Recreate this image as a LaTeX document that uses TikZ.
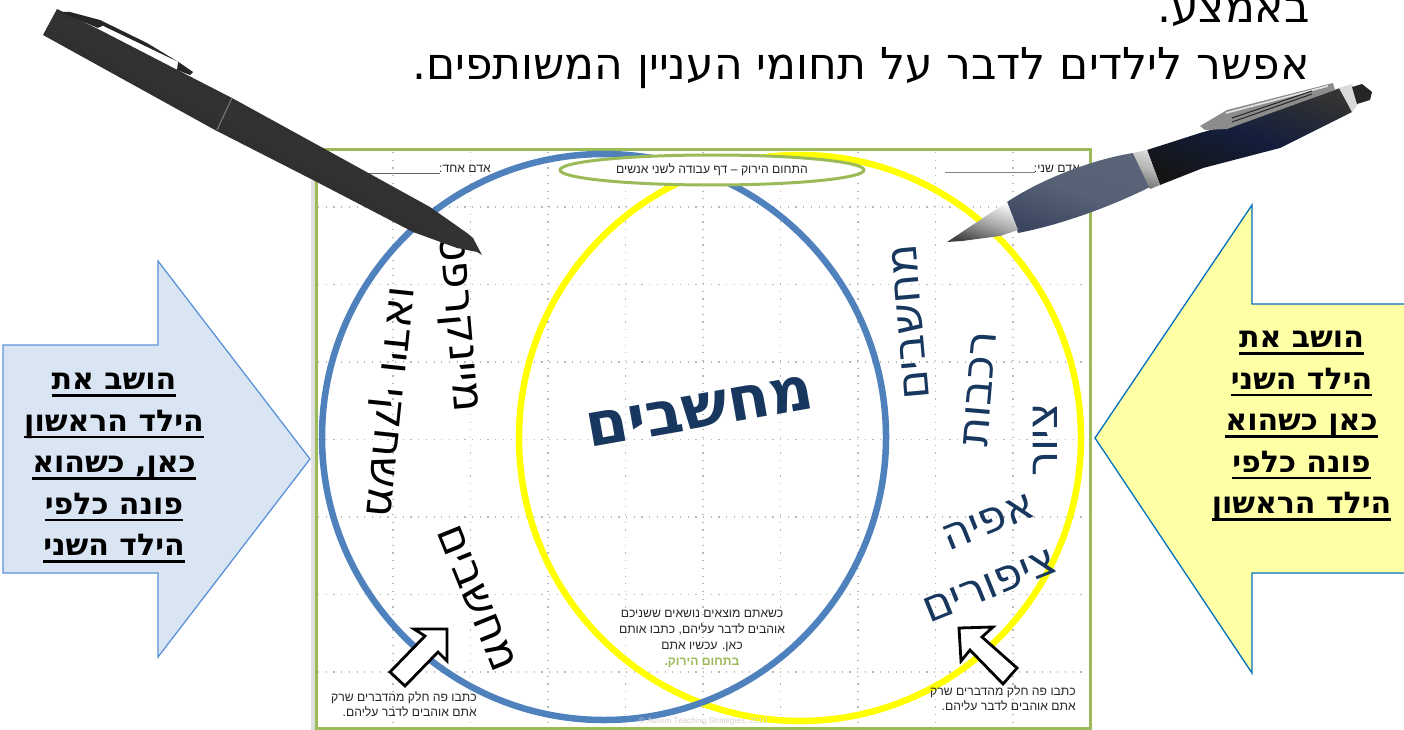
\documentclass[tikz,border=0pt]{standalone}
\usepackage{fontspec}
\usepackage{xcolor}
\newfontfamily\heb[Script=Hebrew]{DejaVu Sans}
\newfontfamily\hebs[Script=Hebrew]{Liberation Sans}
\TeXXeTstate=1
\newcommand\rtl[1]{\beginR #1\endR}
\newcommand\ulrtl[1]{\setbox0=\hbox{\rtl{#1}}\dp0=0pt \vtop{\box0\kern4.5pt\hrule height 2.6pt}}
\definecolor{wgreen}{HTML}{9BBB59}
\definecolor{wblue}{HTML}{4F81BD}
\definecolor{wyellow}{HTML}{FFFF00}
\definecolor{navy}{HTML}{17375E}
\definecolor{txt}{HTML}{262626}
\definecolor{armblue}{HTML}{DAE5F4}
\definecolor{armblueline}{HTML}{5B93D9}
\definecolor{armyellow}{HTML}{FFFFA6}
\definecolor{armyellowline}{HTML}{0070C0}
\definecolor{pennavy}{HTML}{141E3C}
\definecolor{gripa}{HTML}{5A6478}
\definecolor{gripb}{HTML}{3C465F}
\definecolor{gripc}{HTML}{566176}
\tikzset{
  x=1pt,y=-1pt,
  gridline/.style={draw=black!28,line width=1.1pt,dash pattern=on 1.2pt off 6.5pt},
  bigarrow/.style={line width=1.3pt,line join=miter},
  blockarrow/.style={draw=black,fill=white,line width=2.8pt,line join=miter},
  rottext/.style={inner sep=0pt,text=black,font=\heb\fontsize{44}{52}\selectfont},
  navytext/.style={inner sep=0pt,text=navy,font=\heb\fontsize{44.5}{60}\selectfont},
  smalltext/.style={inner sep=0pt,text=txt,font=\hebs\fontsize{12.2}{15.8}\selectfont},
  armtext/.style={inner sep=0pt,align=center,text=black,font=\heb\bfseries\fontsize{30}{41.6}\selectfont},
}
\begin{document}
\begin{tikzpicture}
\useasboundingbox (0,0) rectangle (1404,730);
\fill[white] (0,0) rectangle (1404,730);

% heading
\node[inner sep=0pt,anchor=base east,font=\heb\fontsize{44}{52}\selectfont] (head1) at (1310,23) {\rtl{באמצע.}};
\node[inner sep=0pt,anchor=base east,font=\heb\fontsize{44}{52}\selectfont] (head2) at (1310,79.5) {\rtl{אפשר לילדים לדבר על תחומי העניין המשותפים.}};

% big arrows
\draw[bigarrow,draw=armblueline,fill=armblue]
  (3,345)--(158,345)--(158,261)--(310,459)--(158,657)--(158,573)--(3,573)--cycle;
\draw[bigarrow,draw=armyellowline,fill=armyellow]
  (1406,304)--(1252,304)--(1252,205)--(1095,438)--(1252,673)--(1252,573)--(1406,573);

\node[armtext] (armL) at (114,468) {\ulrtl{הושב את}\\\ulrtl{הילד הראשון}\\\ulrtl{כאן, כשהוא}\\\ulrtl{פונה כלפי}\\\ulrtl{הילד השני}};
\node[armtext] (armR) at (1301.5,426) {\ulrtl{הושב את}\\\ulrtl{הילד השני}\\\ulrtl{כאן כשהוא}\\\ulrtl{פונה כלפי}\\\ulrtl{הילד הראשון}};

% worksheet
\fill[black!12] (311,150) rectangle (316,730);
\foreach \gx in {393,470.5,548,625.5,703,780.5,858,935.5,1013}
  \draw[gridline] (\gx,152)--(\gx,727);
\foreach \gy in {207,284.5,362,439.5,517,594.5,672}
  \draw[gridline] (318,\gy)--(1088,\gy);
\draw[wgreen,line width=3pt] (316,150) rectangle (1090,728);

\draw[black!60,line width=0.9pt] (365,173)--(440,173);
\draw[black!50,line width=0.9pt] (945,172)--(1035,172);
\node[smalltext,anchor=base east] (oneL) at (491,172) {\rtl{אדם אחד:}};
\node[smalltext,anchor=base east] (twoL) at (1080,172) {\rtl{אדם שני:}};

% circles
\draw[wyellow,line width=6.5pt] (800,438) ellipse [x radius=281pt,y radius=283pt];
\draw[wblue,line width=6.5pt] (604,437) ellipse [x radius=282pt,y radius=283pt];
\draw[wgreen,fill=white,line width=3pt] (712,170) ellipse [x radius=152pt,y radius=15pt];
\node[smalltext] (title) at (712,170) {\rtl{התחום הירוק – דף עבודה לשני אנשים}};

% handwriting
\node[rottext,rotate=-96] (games) at (386,402) {\rtl{משחקי וידאו}};
\node[rottext,rotate=-85] (mine) at (455,323) {\rtl{מיינקרפט}};
\node[rottext,rotate=-68] (compL) at (477,598) {\rtl{מחשבים}};
\node[navytext,rotate=95] (compR) at (910,322) {\rtl{מחשבים}};
\node[navytext,rotate=85] (cars) at (980,389) {\rtl{רכבות}};
\node[navytext,rotate=90] (draw) at (1045,440) {\rtl{ציור}};
\node[navytext,rotate=22,align=right] (birds) at (979,558) {\rtl{אפיה}\\\rtl{ציפורים}};
\node[inner sep=0pt,text=navy,rotate=10,font=\heb\bfseries\fontsize{61}{66}\selectfont] (centre) at (700,411) {\rtl{מחשבים}};

% small notes
\node[smalltext,align=center] (note) at (702,639) {\rtl{כשאתם מוצאים נושאים ששניכם}\\\rtl{אוהבים לדבר עליהם, כתבו אותם}\\\rtl{כאן. עכשיו אתם}\\\textcolor{wgreen}{\bfseries\rtl{בתחום הירוק.}}};
\node[smalltext,align=right,anchor=north east] (noteL) at (477,691) {\rtl{כתבו פה חלק מהדברים שרק}\\\rtl{אתם אוהבים לדבר עליהם.}};
\node[smalltext,align=right,anchor=north east] (noteR) at (1076,685) {\rtl{כתבו פה חלק מהדברים שרק}\\\rtl{אתם אוהבים לדבר עליהם.}};
\node[inner sep=0pt,text=black!18,font=\hebs\fontsize{8}{9}\selectfont] (copy) at (703,721) {© Autism Teaching Strategies, 2010};

% block arrows
\draw[blockarrow] (390,672)--(425,636)--(414,629)--(447,629)--(447,661)--(438,652)--(405,686)--cycle;
\draw[blockarrow] (959,628)--(993,627)--(982,637)--(1017,668)--(1003,684)--(970,650)--(961,661)--cycle;

% black pen
\shade[top color=black!92,bottom color=black!94,middle color=black!80,shading angle=-28]
  (57,9)--(43,35)--(215,130)--(313,180)--(413,232)--(457,248)--(477,252)--(482,255)
  --(473,238)--(467,233)--(430,207)--(323,148)--(232,98)--(193,78)--(100,30)--cycle;
\fill[black!85] (70,12)--(100,20)--(147,43)--(180,63)--(193,72)--(190,75)--(177,70)--(178,62)--(103,26)--(98,28)--(60,12)--cycle;
\fill[white] (98,28)--(103,26)--(178,62)--(176,68)--cycle;
\draw[black!55,line width=1.2pt] (232,98)--(217,130);

% blue pen
\shade[top color=black!80,bottom color=black!92,middle color=pennavy,shading angle=-18]
  (1147,150)--(1200,133)--(1270,113)--(1340,88)--(1352,112)--(1280,148)--(1203,168)--(1160,185)--cycle;
\shade[top color=gripa,bottom color=gripb,middle color=gripc,shading angle=-18]
  (1007,202)..controls (1040,180) and (1090,160)..(1133,153)--(1150,187)..controls (1110,207) and (1060,225)..(1018,233)--cycle;
\shade[top color=black!15,bottom color=black!55,middle color=black!30,shading angle=-18]
  (1133,153)--(1147,150)--(1160,185)--(1150,189)--cycle;
\shade[top color=black!3,bottom color=black!75,middle color=black!35,shading angle=-18]
  (947,242)--(1007,202)--(1018,230)--(1000,236)--(962,241)--cycle;
\fill[black!15] (1339,88)--(1352,84)--(1358,104)--(1352,112)--cycle;
\fill[black!85] (1352,87)--(1362,84)--(1372,92)--(1370,100)--(1357,104)--cycle;
\fill[black!45] (1200,126)--(1227,110)--(1333,83)--(1335,90)--(1315,97)--(1227,129)--(1205,130)--cycle;
\draw[black!10,line width=1.6pt] (1226,113)--(1328,86);
\draw[black!85,line width=1pt] (1232,122)--(1312,94);
\draw[black!85,line width=1pt] (1232,118)--(1312,91);
\end{tikzpicture}
\end{document}
